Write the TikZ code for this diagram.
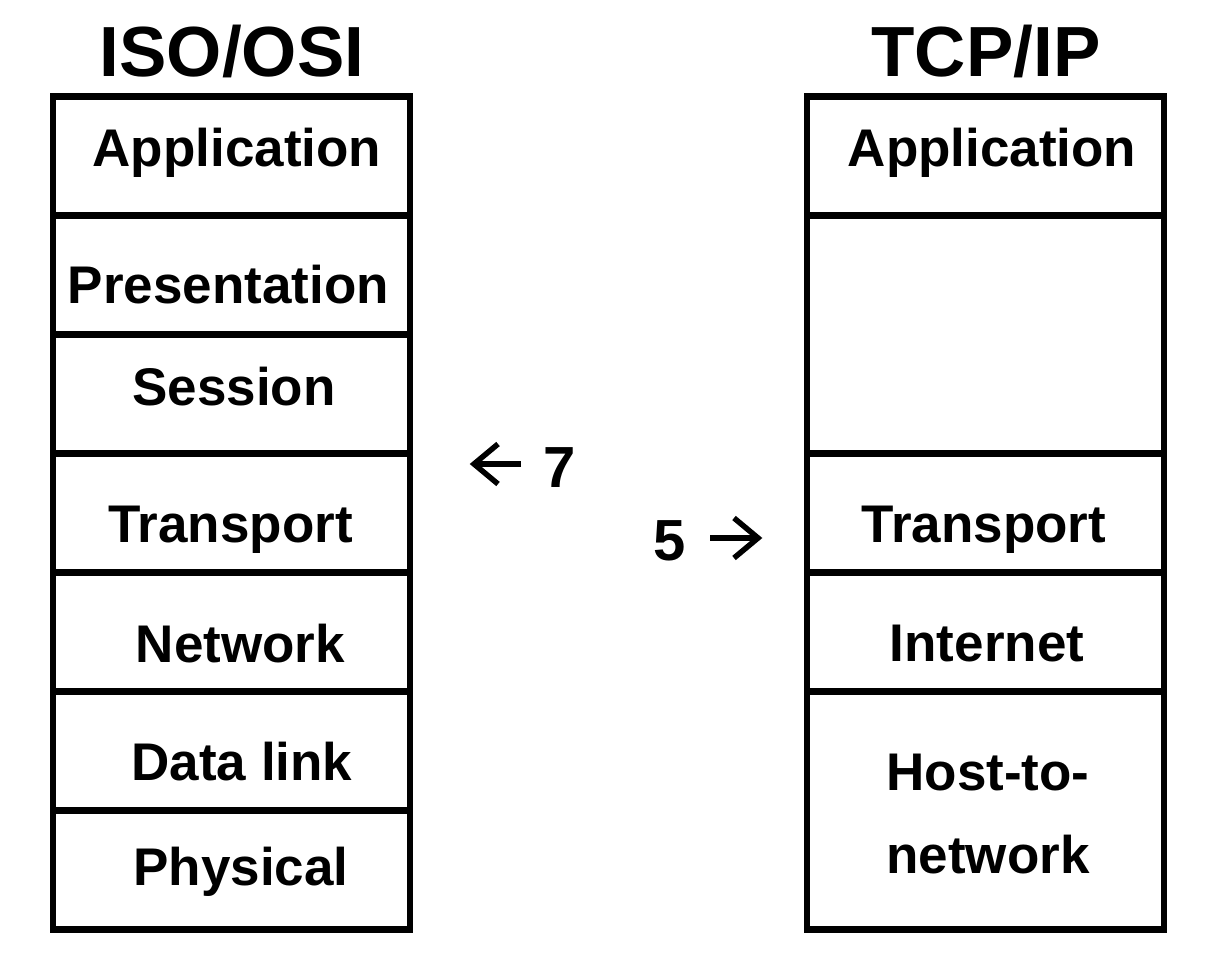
\documentclass[tikz,border=0pt]{standalone}
\usepackage{fontspec}
\setmainfont{Liberation Sans}
\begin{document}
\begin{tikzpicture}[x=1pt,y=-1pt,
  layer/.style={draw, line width=6.5pt, minimum width=357pt, minimum height=119pt, inner sep=0pt, outer sep=0pt},
  tall/.style={layer, minimum height=238pt},
  lbl/.style={anchor=base, inner sep=0pt, font=\fontsize{53}{60}\selectfont\bfseries},
  ttl/.style={anchor=base, inner sep=0pt, font=\fontsize{71}{80}\selectfont\bfseries},
  num/.style={anchor=base, inner sep=0pt, font=\fontsize{58}{64}\selectfont\bfseries},
  glyph/.style={line width=5.5pt, line join=miter}]
\useasboundingbox (0,0) rectangle (1230,952);
% titles
\node[ttl] (tiso) at (232,77) {ISO/OSI};
\node[ttl] (ttcp) at (986,77) {TCP/IP};
% ISO/OSI stack
\node[layer] (l1) at (231.5,156) {};
\node[layer] (l2) at (231.5,275) {};
\node[layer] (l3) at (231.5,394) {};
\node[layer] (l4) at (231.5,513) {};
\node[layer] (l5) at (231.5,632) {};
\node[layer] (l6) at (231.5,751) {};
\node[layer] (l7) at (231.5,870) {};
\node[lbl] (t1) at (237,167) {Application};
\node[lbl] (t2) at (228.5,303) {Presentation};
\node[lbl] (t3) at (234,405) {Session};
\node[lbl] (t4) at (230.5,542) {Transport};
\node[lbl] (t5) at (240.5,662) {Network};
\node[lbl] (t6) at (242,780) {Data link};
\node[lbl] (t7) at (241,885) {Physical};
% TCP/IP stack
\node[layer] (r1) at (985.5,156) {};
\node[tall]  (r2) at (985.5,334.5) {};
\node[layer] (r3) at (985.5,513) {};
\node[layer] (r4) at (985.5,632) {};
\node[tall]  (r5) at (985.5,810.5) {};
\node[lbl] (u1) at (992,167) {Application};
\node[lbl] (u3) at (984,542) {Transport};
\node[lbl] (u4) at (987,661) {Internet};
\node[lbl] (u5a) at (988,790) {Host-to-};
\node[lbl] (u5b) at (988,873) {network};
% counts with arrows
\node[num] (n7) at (560,487) {7};
\node[num] (n5) at (670,560) {5};
\coordinate (a7tip) at (474,464);
\coordinate (a7end) at (521,464);
\coordinate (a5tip) at (758,538);
\coordinate (a5end) at (710,538);
\draw[glyph] (a7end) -- (a7tip);
\draw[glyph] ([shift={(24,-20)}]a7tip) -- (a7tip) -- ([shift={(24,20)}]a7tip);
\draw[glyph] (a5end) -- (a5tip);
\draw[glyph] ([shift={(-24,-20)}]a5tip) -- (a5tip) -- ([shift={(-24,20)}]a5tip);
\end{tikzpicture}
\end{document}
